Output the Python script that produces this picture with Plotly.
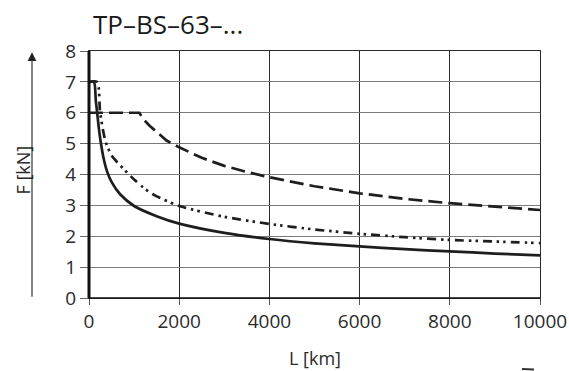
import plotly.graph_objects as go

# Data
L_solid = [0, 110, 150, 185, 220, 260, 320, 400, 500, 690, 1000, 1500, 2000, 3000, 4000, 5000, 6000, 7000, 8000, 9000, 10000]
F_solid = [7.0, 7.0, 6.4, 5.95, 5.48, 5.05, 4.55, 4.1, 3.76, 3.36, 2.98, 2.65, 2.41, 2.11, 1.91, 1.77, 1.67, 1.58, 1.51, 1.44, 1.38]

L_dashdot = [0, 180, 244, 300, 370, 500, 687, 800, 1000, 1200, 1430, 1650, 2000, 3000, 4000, 5000, 6000, 7000, 8000, 9000, 10000]
F_dashdot = [7.0, 7.0, 6.05, 5.52, 5.05, 4.62, 4.3, 4.13, 3.84, 3.58, 3.35, 3.19, 2.98, 2.63, 2.40, 2.22, 2.08, 1.97, 1.88, 1.83, 1.78]

L_dashed = [0, 1115, 1200, 1350, 1500, 1720, 2000, 2500, 3000, 3500, 4000, 5000, 6000, 7000, 8000, 9000, 10000]
F_dashed = [6.0, 6.0, 5.8, 5.57, 5.38, 5.1, 4.88, 4.54, 4.28, 4.08, 3.91, 3.62, 3.39, 3.21, 3.07, 2.95, 2.85]

x_ticks = [0, 2000, 4000, 6000, 8000, 10000]
y_ticks = [0, 1, 2, 3, 4, 5, 6, 7, 8]

title_text = "TP–BS–63–..."
x_label = "L [km]"
y_label = "F [kN]"

FONT = "Open Sans"
INK = "#1e1e1e"

fig = go.Figure()
fig.add_trace(go.Scatter(x=L_dashed, y=F_dashed, mode="lines",
                         line=dict(color=INK, width=2.7, dash="14px,6px")))
fig.add_trace(go.Scatter(x=L_dashdot, y=F_dashdot, mode="lines",
                         line=dict(color=INK, width=2.7, dash="9px,5px,2.5px,4px,2.5px,5px",
                                   shape="spline", smoothing=0.7)))
fig.add_trace(go.Scatter(x=L_solid, y=F_solid, mode="lines",
                         line=dict(color=INK, width=2.7, shape="spline", smoothing=0.7)))

fig.update_layout(
    width=569, height=371,
    margin=dict(l=89, r=29, t=51, b=73, autoexpand=False),
    paper_bgcolor="white", plot_bgcolor="white",
    showlegend=False,
    font=dict(family=FONT, size=19, color="#2a2a2a"),
)

fig.update_xaxes(
    range=[0, 10000], tickvals=x_ticks, ticktext=[str(v) for v in x_ticks],
    showgrid=True, gridcolor="#2a2a2a", gridwidth=1.2,
    showline=True, mirror=True, linecolor="#2a2a2a", linewidth=1.3,
    ticks="outside", ticklen=6, tickwidth=1.2, tickcolor="#555",
    zeroline=False, tickfont=dict(size=19), automargin=False,
)
fig.update_yaxes(
    range=[0, 8], tickvals=y_ticks, ticktext=[str(v) for v in y_ticks],
    showgrid=True, gridcolor="#7a7a7a", gridwidth=1.3,
    showline=True, mirror=True, linecolor="#2a2a2a", linewidth=1.3,
    ticks="outside", ticklen=8, tickwidth=1.3, tickcolor="#666",
    zeroline=False, tickfont=dict(size=19), automargin=False,
)

# thick left axis line
fig.add_shape(type="line", xref="x domain", yref="y domain",
              x0=0, x1=0, y0=0, y1=1, line=dict(color="#111", width=3))
# bottom axis line
fig.add_shape(type="line", xref="x domain", yref="y domain",
              x0=0, x1=1, y0=0, y1=0, line=dict(color="#111", width=1.6))
# cropped mark at bottom right
fig.add_shape(type="line", xref="paper", yref="paper",
              x0=(522 - 89) / 451, x1=(534 - 89) / 451, y0=-0.287, y1=-0.289,
              line=dict(color="#333", width=2))

# title
fig.add_annotation(text=title_text, xref="paper", yref="paper",
                   x=(91 - 89) / 451, y=(298.3 - 24) / 247.6, xanchor="left", yanchor="middle",
                   showarrow=False, font=dict(family=FONT, size=26, color="#1a1a1a"))
# x label
fig.add_annotation(text=x_label, xref="paper", yref="paper",
                   x=0.5, y=(298.3 - 358) / 247.6, xanchor="center", yanchor="middle",
                   showarrow=False, font=dict(family=FONT, size=18, color="#2a2a2a"))
# y label
fig.add_annotation(text=y_label, xref="paper", yref="paper", textangle=-90,
                   x=(23.5 - 89) / 451, y=(298.3 - 170) / 247.6, xanchor="center", yanchor="middle",
                   showarrow=False, font=dict(family=FONT, size=18, color="#2a2a2a"))
# y arrow
fig.add_annotation(text="", xref="paper", yref="paper",
                   x=(32 - 89) / 451, y=(298.3 - 52) / 247.6,
                   ax=0, ay=246, axref="pixel", ayref="pixel",
                   showarrow=True, arrowhead=2, arrowsize=1.6, arrowwidth=1.1,
                   arrowcolor="#222")

fig.write_html("out.html", config={"displayModeBar": False})

# remove the browser's default page margin so the figure sits at the top-left corner
with open("out.html", "r", encoding="utf-8") as fh:
    html = fh.read()
html = html.replace("<body>", '<body style="margin:0;padding:0;overflow:hidden">', 1)
with open("out.html", "w", encoding="utf-8") as fh:
    fh.write(html)
